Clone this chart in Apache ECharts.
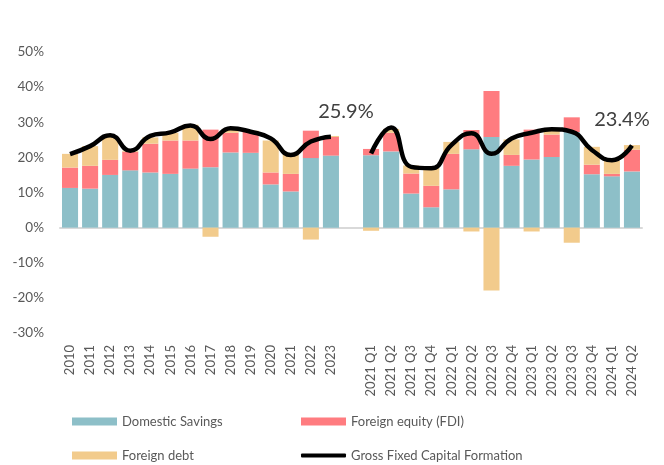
<!DOCTYPE html>
<html>
<head>
<meta charset="utf-8">
<script src="https://cdn.jsdelivr.net/npm/echarts@6/dist/echarts.min.js"></script>
<style>
  html, body { margin: 0; padding: 0; background: #fff; }
  #chart { width: 664px; height: 465px; }
</style>
</head>
<body>
<div id="chart"></div>
<script>
// categories: annual years, a blank spacer, then quarters
const categories = ['2010', '2011', '2012', '2013', '2014', '2015', '2016', '2017', '2018', '2019', '2020', '2021', '2022', '2023', '',
    '2021 Q1', '2021 Q2', '2021 Q3', '2021 Q4', '2022 Q1', '2022 Q2', '2022 Q3', '2022 Q4',
    '2023 Q1', '2023 Q2', '2023 Q3', '2023 Q4', '2024 Q1', '2024 Q2'];

const domesticSavings = [11.3, 11.1, 15.0, 16.3, 15.7, 15.3, 16.8, 17.2, 21.4, 21.3, 12.3, 10.3, 19.8, 20.5, null,
    20.6, 21.7, 9.7, 5.8, 10.9, 22.3, 25.8, 17.6, 19.4, 20.1, 27.2, 15.2, 14.6, 16.0];
const foreignEquity = [5.8, 6.5, 4.3, 5.3, 8.2, 9.5, 8.0, 10.7, 5.6, 6.1, 3.4, 5.0, 7.8, 5.3, null,
    1.8, 5.3, 5.7, 6.1, 10.1, 5.5, 13.1, 3.1, 8.5, 6.4, 4.2, 2.7, 0.7, 6.2];
const foreignDebt = [3.9, 5.6, 6.8, 0.3, 1.8, 2.2, 4.5, -2.6, 1.2, 0.2, 9.1, 5.6, -3.4, 0.3, null,
    -0.9, 1.1, 2.3, 5.1, 3.4, -1.1, -17.9, 4.4, -1.1, 1.5, -4.3, 5.1, 3.7, 1.3];
const gfcf = [20.9, 23.2, 26.3, 21.9, 26.1, 27.1, 29.1, 25.2, 28.3, 27.3, 25.4, 20.7, 24.5, 25.9, null,
    21.1, 28.5, 17.3, 16.9, 23.5, 26.9, 21.0, 25.4, 27.0, 28.0, 27.3, 22.1, 19.2, 23.4];

// which points get a value label, and its offset
const labelled = { 13: [15, -10], 28: [-10, -11] };

const chart = echarts.init(document.getElementById('chart'));

const textColor = '#595959';
const font = 'Lato, "Noto Sans", sans-serif';

const option = {
    animation: false,
    grid: { left: 60, right: 22, top: 52, bottom: 132 },
    legend: [
        { data: ['Domestic Savings'], left: 72, top: 415 },
        { data: ['Foreign equity (FDI)'], left: 301, top: 415 },
        { data: ['Foreign debt'], left: 72, top: 449 },
        { data: ['Gross Fixed Capital Formation'], left: 301, top: 449, itemHeight: 4,
          icon: 'roundRect' }
    ].map(l => Object.assign({
        padding: 0, itemWidth: 45, itemHeight: 8, icon: 'rect', itemGap: 6,
        textStyle: { color: textColor, fontSize: 13, fontFamily: font }
    }, l)),
    xAxis: {
        type: 'category',
        data: categories,
        axisLine: { lineStyle: { color: '#d9d9d9', width: 2 } },
        axisTick: { show: false },
        axisLabel: { rotate: 90, color: textColor, fontSize: 13, fontFamily: font, margin: 12, interval: 0 }
    },
    yAxis: {
        type: 'value',
        min: -30, max: 50, interval: 10,
        splitLine: { show: false },
        axisLabel: { formatter: '{value}%', color: textColor, fontSize: 13.5, fontFamily: font, margin: 16 }
    },
    series: [
        {
            name: 'Domestic Savings', type: 'bar', stack: 'total', data: domesticSavings,
            barCategoryGap: '20%', itemStyle: { color: '#8dbfc8' }
        },
        {
            name: 'Foreign equity (FDI)', type: 'bar', stack: 'total', data: foreignEquity,
            itemStyle: { color: '#ff7c80' }
        },
        {
            name: 'Foreign debt', type: 'bar', stack: 'total', data: foreignDebt,
            itemStyle: { color: '#f2cb8c' }
        },
        {
            name: 'Gross Fixed Capital Formation', type: 'line', z: 5,
            smooth: 0.5, showSymbol: true, symbol: 'circle', symbolSize: 0, connectNulls: false,
            lineStyle: { color: '#000', width: 4.5 },
            itemStyle: { color: '#000' },
            data: gfcf.map((v, i) => labelled[i] ? {
                value: v,
                label: {
                    show: true, position: 'top', offset: labelled[i],
                    formatter: '{c}%', fontSize: 20, color: '#404040', fontFamily: font
                }
            } : v)
        }
    ]
};

chart.setOption(option);
</script>
</body>
</html>
